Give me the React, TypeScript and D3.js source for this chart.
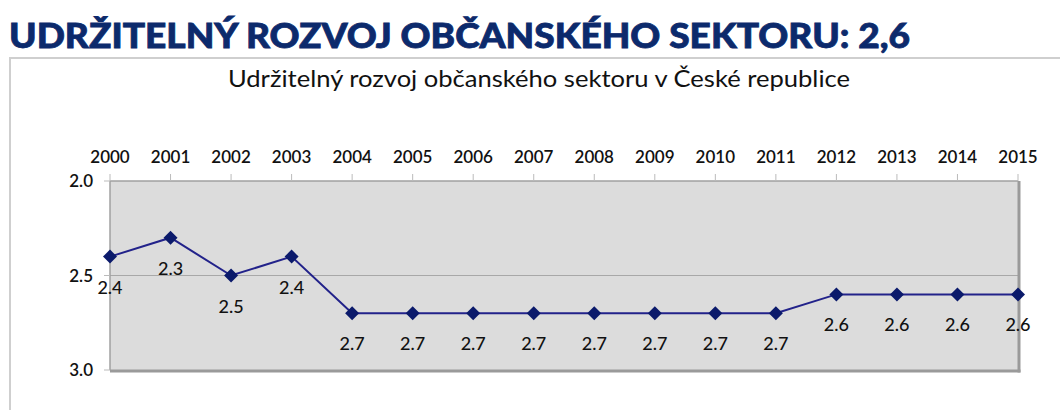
import React from "react";
import * as d3 from "d3";

const years = ["2000","2001","2002","2003","2004","2005","2006","2007","2008","2009","2010","2011","2012","2013","2014","2015"];
const values = [2.4, 2.3, 2.5, 2.4, 2.7, 2.7, 2.7, 2.7, 2.7, 2.7, 2.7, 2.7, 2.6, 2.6, 2.6, 2.6];
const yTicks = [2.0, 2.5, 3.0];
const mainTitle = "UDRŽITELNÝ ROZVOJ OBČANSKÉHO SEKTORU: 2,6";
const subTitle = "Udržitelný rozvoj občanského sektoru v České republice";

const W = 1060, H = 410;
const plot = { left: 110, right: 1018, top: 181, bottom: 370 };
const FONT = "Lato, 'Open Sans', sans-serif";

export default function App() {
  const x = d3.scalePoint<string>().domain(years).range([plot.left, plot.right]);
  const y = d3.scaleLinear().domain([2.0, 3.0]).range([plot.top, plot.bottom]);
  const line = d3.line<number>().x((_, i) => x(years[i])!).y(d => y(d));
  const marker = d3.symbol().type(d3.symbolSquare).size(98)()!;

  return (
    <svg width={W} height={H} style={{ position: "absolute", left: 0, top: 0, background: "#fff" }}>
      <text x={9} y={48} fontFamily={FONT} fontWeight={900} fontSize={34} fill="#0c2a6c"
        stroke="#0c2a6c" strokeWidth={0.8}
        textLength={901} lengthAdjust="spacingAndGlyphs">{mainTitle}</text>
      {/* outer box */}
      <line x1={9} x2={W} y1={58} y2={58} stroke="#cfcfcf" strokeWidth={2} />
      <line x1={10} x2={10} y1={57} y2={H} stroke="#cfcfcf" strokeWidth={2} />
      <text x={539} y={87} textAnchor="middle" fontFamily={FONT} fontSize={23} fill="#111"
        textLength={622} lengthAdjust="spacingAndGlyphs">{subTitle}</text>

      {/* plot background */}
      <rect x={plot.left} y={plot.top} width={plot.right - plot.left} height={plot.bottom - plot.top} fill="#dcdcdc" />
      {/* gridline */}
      <line x1={plot.left} x2={plot.right} y1={y(2.5)} y2={y(2.5)} stroke="#a8a8a8" strokeWidth={1} />
      {/* shadow border right/bottom */}
      <line x1={plot.right + 1} x2={plot.right + 1} y1={plot.top} y2={plot.bottom + 2.5} stroke="#9a9a9a" strokeWidth={3} />
      <line x1={plot.left} x2={plot.right + 2.5} y1={plot.bottom + 1} y2={plot.bottom + 1} stroke="#9a9a9a" strokeWidth={3} />
      <line x1={plot.left} x2={plot.right} y1={plot.top} y2={plot.top} stroke="#a0a0a0" strokeWidth={1.5} />
      <line x1={plot.left} x2={plot.left} y1={plot.top} y2={plot.bottom} stroke="#a0a0a0" strokeWidth={1.5} />

      {/* top ticks and year labels */}
      {years.map(yr => (
        <g key={yr}>
          <line x1={x(yr)} x2={x(yr)} y1={plot.top - 7} y2={plot.top} stroke="#bbb" strokeWidth={1} />
          <text x={x(yr)} y={163} textAnchor="middle" fontFamily={FONT} fontWeight={600} fontSize={17} fill="#111">{yr}</text>
        </g>
      ))}
      {/* y ticks and labels */}
      {yTicks.map(t => (
        <g key={t}>
          <line x1={plot.left - 6} x2={plot.left} y1={y(t)} y2={y(t)} stroke="#bbb" strokeWidth={1} />
          <text x={93} y={y(t) + 6} textAnchor="end" fontFamily={FONT} fontWeight={600} fontSize={17} fill="#111">{t.toFixed(1)}</text>
        </g>
      ))}

      {/* series */}
      <path d={line(values)!} fill="none" stroke="#22228a" strokeWidth={2} />
      {values.map((v, i) => (
        <path key={i} d={marker} transform={`translate(${x(years[i])},${y(v)}) rotate(45)`} fill="#0b1a6b" />
      ))}
      {values.map((v, i) => (
        <text key={"l" + i} x={x(years[i])} y={y(v) + 37} textAnchor="middle" fontFamily={FONT}
          fontWeight={500} fontSize={18} fill="#111">{v.toFixed(1)}</text>
      ))}
    </svg>
  );
}
